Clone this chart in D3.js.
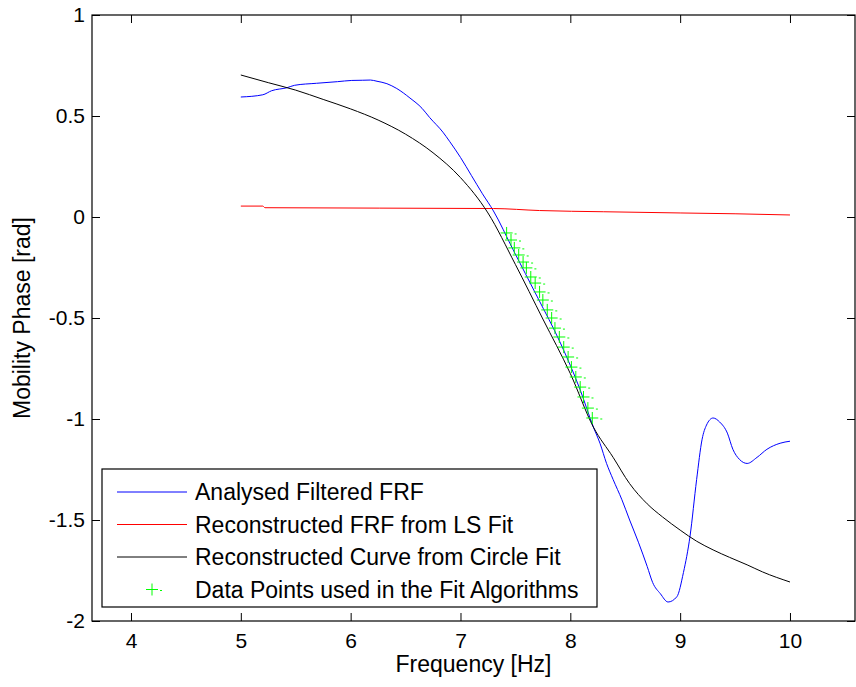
<!DOCTYPE html>
<html>
<head>
<meta charset="utf-8">
<script src="https://cdn.jsdelivr.net/npm/d3@7"></script>
<style>
    body { margin: 0; background: #fff; }
    text { font-family: 'Liberation Sans', Arial, sans-serif; }
</style>
</head>
<body>
<div class="main"></div>
<script>
// values
var blueX = [5.0, 5.2, 5.28, 5.42, 5.49, 5.69, 5.88, 6.01, 6.11, 6.18, 6.24, 6.33, 6.42, 6.54, 6.65, 6.72, 6.84, 6.90,
    7.0, 7.1, 7.2, 7.3, 7.48, 7.7, 7.91, 8.09, 8.21, 8.27, 8.33, 8.39, 8.47, 8.54, 8.62, 8.70, 8.75, 8.82, 8.89,
    8.97, 9.03, 9.09, 9.15, 9.20, 9.24, 9.30, 9.36, 9.43, 9.48, 9.54, 9.61, 9.70, 9.79, 9.91, 10.0];
var blueY = [0.594, 0.605, 0.625, 0.640, 0.652, 0.662, 0.670, 0.676, 0.677, 0.678, 0.672, 0.660, 0.636, 0.589, 0.538, 0.492, 0.420, 0.375,
    0.295, 0.205, 0.115, 0.030, -0.163, -0.396, -0.624, -0.856, -1.04, -1.12, -1.22, -1.30, -1.40, -1.50, -1.61, -1.73, -1.81, -1.865, -1.906,
    -1.88, -1.76, -1.58, -1.30, -1.10, -1.03, -0.995, -1.015, -1.07, -1.15, -1.20, -1.22, -1.19, -1.15, -1.12, -1.11];

var redX = [5.0, 5.2, 5.22, 7.3, 7.72, 8.3, 9.0, 9.5, 10.0];
var redY = [0.054, 0.054, 0.046, 0.042, 0.032, 0.026, 0.02, 0.016, 0.01];

var blackX = [5.0, 5.25, 5.5, 5.75, 6.0, 6.25, 6.5, 6.75, 7.0, 7.25, 7.5, 7.75, 8.0, 8.21, 8.39, 8.54, 8.70,
    8.84, 9.0, 9.15, 9.30, 9.45, 9.61, 9.75, 10.0];
var blackY = [0.703, 0.665, 0.628, 0.582, 0.535, 0.480, 0.410, 0.318, 0.195, 0.020, -0.235, -0.505, -0.775, -1.04, -1.19, -1.32, -1.42,
    -1.485, -1.55, -1.605, -1.648, -1.685, -1.722, -1.757, -1.807];

var fitX = [7.42, 7.46, 7.49, 7.53, 7.57, 7.60, 7.64, 7.68, 7.72, 7.75, 7.79, 7.83, 7.86, 7.90, 7.94, 7.98, 8.01, 8.05, 8.09, 8.12, 8.16, 8.20];
var fitY = [-0.079, -0.114, -0.153, -0.188, -0.223, -0.252, -0.297, -0.327, -0.371, -0.411, -0.460, -0.500, -0.550, -0.594, -0.644,
    -0.693, -0.743, -0.792, -0.842, -0.891, -0.946, -0.995];

var xTicks = [4, 5, 6, 7, 8, 9, 10];
var yTicks = [-2, -1.5, -1, -0.5, 0, 0.5, 1];

var legendLabels = ['Analysed Filtered FRF', 'Reconstructed FRF from LS Fit',
    'Reconstructed Curve from Circle Fit', 'Data Points used in the Fit Algorithms'];

var options = {
    'width': 856,
    'height': 687,
    'left': 92,
    'top': 15,
    'right': 855,
    'bottom': 621
};

var svg = d3.select('.main')
    .append('svg')
    .attr('width', options.width)
    .attr('height', options.height);

var x = d3.scaleLinear().domain([3.645, 10.592]).range([options.left, options.right]);
var y = d3.scaleLinear().domain([-2, 1]).range([options.bottom, options.top]);

// plain labels with a hyphen minus, like the original
var plain = function (d) { return String(d); };

// axes, ticks point inward
function styleAxis(g) {
    g.select('.domain').remove();
    g.selectAll('.tick line').attr('stroke', '#000');
    g.selectAll('.tick text')
        .attr('fill', '#000')
        .style('font-family', "'Liberation Sans', Arial, sans-serif")
        .style('font-size', '21px');
}

svg.append('g')
    .attr('transform', 'translate(0,' + options.bottom + ')')
    .call(d3.axisBottom(x).tickValues(xTicks).tickSizeInner(-8).tickSizeOuter(0).tickPadding(12).tickFormat(plain))
    .call(styleAxis);

svg.append('g')
    .attr('transform', 'translate(0,' + options.top + ')')
    .call(d3.axisTop(x).tickValues(xTicks).tickSizeInner(-8).tickSizeOuter(0).tickFormat(''))
    .call(styleAxis);

svg.append('g')
    .attr('transform', 'translate(' + options.left + ',0)')
    .call(d3.axisLeft(y).tickValues(yTicks).tickSizeInner(-8).tickSizeOuter(0).tickPadding(7).tickFormat(plain))
    .call(styleAxis);

svg.append('g')
    .attr('transform', 'translate(' + options.right + ',0)')
    .call(d3.axisRight(y).tickValues(yTicks).tickSizeInner(-8).tickSizeOuter(0).tickFormat(''))
    .call(styleAxis);

svg.append('rect')
    .attr('x', options.left)
    .attr('y', options.top)
    .attr('width', options.right - options.left)
    .attr('height', options.bottom - options.top)
    .style('fill', 'none')
    .style('stroke', '#000')
    .style('stroke-width', '1.2px');

// curves
var line = d3.line()
    .curve(d3.curveMonotoneX)
    .x(function (d) { return x(d[0]); })
    .y(function (d) { return y(d[1]); });

function pairs(xs, ys) {
    return xs.map(function (v, i) { return [v, ys[i]]; });
}

var series = [
    { data: pairs(blueX, blueY), color: '#0000ff' },
    { data: pairs(redX, redY), color: '#ff0000' },
    { data: pairs(blackX, blackY), color: '#000000' }
];

svg.selectAll('.curve')
    .data(series)
    .enter()
    .append('path')
    .attr('class', 'curve')
    .attr('d', function (d) { return line(d.data); })
    .style('fill', 'none')
    .style('stroke', function (d) { return d.color; })
    .style('stroke-width', '1px');

// plus markers
var plusPath = 'M-6,0H6M0,-6V6M8,1H10';

svg.selectAll('.fit')
    .data(pairs(fitX, fitY))
    .enter()
    .append('path')
    .attr('class', 'fit')
    .attr('transform', function (d) { return 'translate(' + [x(d[0]), y(d[1])] + ')'; })
    .attr('d', plusPath)
    .style('fill', 'none')
    .style('stroke', '#00ff00')
    .style('stroke-width', '1px');

// axis titles
svg.append('text')
    .text('Frequency [Hz]')
    .attr('x', (options.left + options.right) / 2)
    .attr('y', 672)
    .attr('text-anchor', 'middle')
    .style('font-size', '23px');

svg.append('text')
    .text('Mobility Phase [rad]')
    .attr('transform', 'translate(30,' + ((options.top + options.bottom) / 2) + ') rotate(-90)')
    .attr('text-anchor', 'middle')
    .style('font-size', '23px');

// legend
var g_legend = svg.append('g')
    .attr('transform', 'translate(' + [102, 469] + ')');

g_legend.append('rect')
    .attr('x', 0)
    .attr('y', 0)
    .attr('width', 495)
    .attr('height', 138)
    .style('fill', '#fff')
    .style('stroke', '#000')
    .style('stroke-width', '1.2px');

var rows = g_legend.selectAll('.legend-row')
    .data(legendLabels)
    .enter()
    .append('g')
    .attr('class', 'legend-row')
    .attr('transform', function (d, i) {
        return 'translate(0,' + (23 + i * 32.5) + ')';
    });

rows.filter(function (d, i) { return i < 3; })
    .append('line')
    .attr('x1', 15)
    .attr('x2', 85)
    .attr('y1', 0)
    .attr('y2', 0)
    .style('stroke', function (d, i) { return series[i].color; })
    .style('stroke-width', '1px');

rows.filter(function (d, i) { return i === 3; })
    .append('path')
    .attr('transform', 'translate(50,0)')
    .attr('d', plusPath)
    .style('fill', 'none')
    .style('stroke', '#00ff00')
    .style('stroke-width', '1px');

rows.append('text')
    .text(function (d) { return d; })
    .attr('x', 93)
    .attr('y', 0)
    .attr('dy', '0.36em')
    .style('font-size', '23px')
    .style('fill', '#000');
</script>
</body>
</html>
